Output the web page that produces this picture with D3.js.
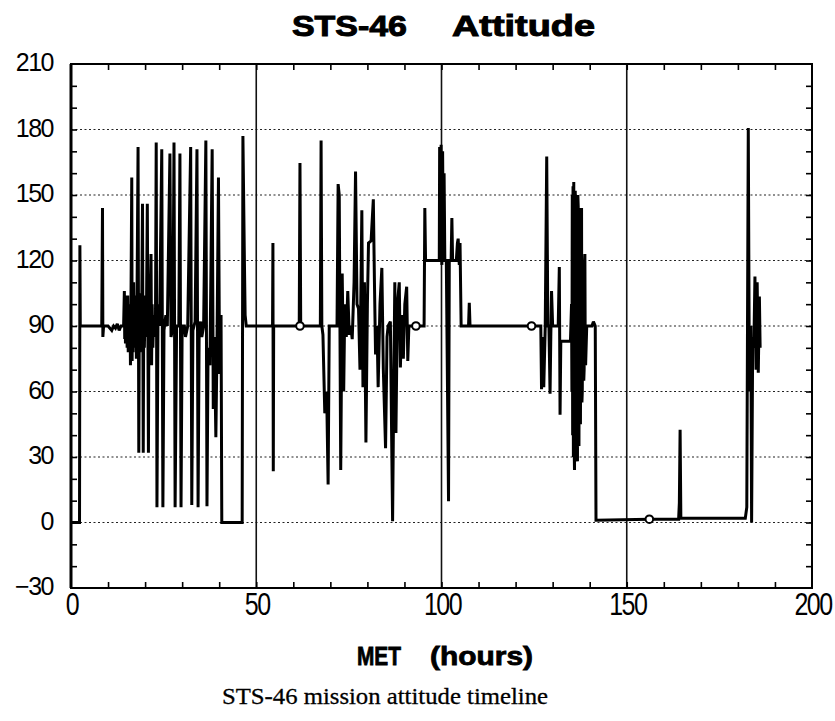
<!DOCTYPE html>
<html>
<head>
<meta charset="utf-8">
<script src="https://cdn.jsdelivr.net/npm/d3@7"></script>
<style>
  html, body { margin: 0; padding: 0; background: #fff; }
  svg { display: block; }
</style>
</head>
<body>
<svg id="chart" width="835" height="721"></svg>
<script>
// ---------------- DATA ----------------
const titleParts = ["STS-46", "Attitude"];
const xAxisTitleParts = ["MET", "(hours)"];
const captionText = "STS-46 mission attitude timeline";

const xTickLabels = [0, 50, 100, 150, 200];
const yTickLabels = [-30, 0, 30, 60, 90, 120, 150, 180, 210];
const xGridValues = [50, 100, 150];
const yGridValues = [0, 30, 60, 90, 120, 150, 180];

// [MET hours, attitude value]
const attitudeSegment1 = [
  [0,0],[2.3,0],[2.4,127],[2.5,90],[8.3,90],[8.5,144],[8.6,85],[8.8,90],[10,90],[11,88],[11.5,90],[12,89],[12.5,91],[13,88],[13.5,90],[14.2,90],
  [14.4,106],[14.5,84],[14.6,100],[14.7,82],[14.8,104],[14.9,85],[15.0,100],[15.15,80],[15.3,104],[15.45,78],[15.6,98],[15.75,80],[15.9,100],
  [16.05,72],[16.2,104],[16.4,158],[16.5,74],[16.6,108],[16.75,78],[16.9,110],[17.05,80],[17.2,104],[17.35,82],[17.5,100],[17.65,75],[17.8,98],
  [18.1,172],[18.3,32],[18.45,100],[18.6,78],[18.75,105],[18.9,82],[19.1,100],[19.3,146],[19.5,32],[19.65,104],[19.8,80],[20.0,100],[20.2,85],
  [20.4,102],[20.6,146],[20.9,32],[21.05,100],[21.2,80],[21.4,104],[21.6,123],[21.75,72],[21.9,100],[22.1,80],[22.3,95],[22.55,85],[22.8,92],
  [23.0,174],[23.2,7],[23.5,100],[23.9,90],[24.5,171],[24.8,7],[25.1,88],[25.6,95],[26.0,90],[26.7,169],[27.0,85],[27.5,90],[27.8,174],
  [28.1,7],[28.5,90],[29.1,90],[29.4,169],[29.7,7],[30.0,90],[30.6,90],[30.9,85],[31.5,90],[32.3,172],[32.6,8],[32.9,88],[33.5,92],[34.0,171],
  [34.3,7],[34.6,90],[35.0,92],[35.3,85],[35.8,90],[36.4,175],[36.7,7.5],[37.0,80],[37.5,72],[38.1,171],[38.4,52],[38.7,85],[39.1,39],[39.4,80],
  [39.8,158],[40.1,68],[40.5,95],[40.7,0],[46.2,0],[46.4,177],[46.8,120],[47.0,95],[47.3,90]
];
const attitudeSegment2 = [
  [54.4,90],[54.5,128],[54.6,23.5],[54.7,90],[61.6,90],[61.8,164.6],[62.0,90],[67.3,90],[67.5,175],[67.7,90],[68.0,86],[68.5,50],[69.0,60],
  [69.4,17.4],[69.7,90],[71.8,90],[72.1,155],[72.4,150],[72.8,24],[73.2,114],[73.6,60],[73.9,100],[74.3,85],[74.7,106],[75.1,86],[75.5,90],
  [75.9,84],[76.4,110],[76.8,160.7],[77.2,100],[77.6,98],[78.0,70],[78.5,143],[78.8,62],[79.2,110],[79.6,36.6],[80.0,100],[80.3,128],[81.0,129],
  [81.6,148],[81.9,110],[82.2,77],[82.6,90],[82.9,62],[83.4,100],[83.9,116.6],[84.3,70],[84.9,34],[85.3,85],[85.6,90],[86.2,92],[86.8,0.6],
  [87.1,60],[87.4,110],[87.7,41],[88.1,100],[88.6,110],[88.9,71],[89.3,95],[89.7,75],[90.1,100],[90.6,108],[90.9,74],[91.2,90],[95.3,90],
  [95.5,144],[95.7,120],[99.4,120]
];
const attitudeSegment3 = [
  [99.5,172],[99.7,125],[99.9,173],[100.1,118],[100.3,170],[100.5,122],[100.7,160],[100.9,120],[101.3,120],[101.9,9.7],[102.1,120],[102.6,120],
  [102.8,139.5],[103.0,120],[104.0,120],[104.3,128],[104.5,130],[104.8,118],[105.0,128],[105.3,90],[107.3,90],[107.5,100.6],[107.7,90],[126.8,90],
  [127.0,61],[127.4,85],[127.6,62],[128.0,90],[128.4,167.6],[128.7,90],[129.0,90],[129.3,59],[129.5,85],[129.7,106],[130.0,90],[131.5,90],
  [131.8,117],[132.0,49.4],[132.2,83],[134.8,83],
  [135.1,100],[135.2,60],[135.3,150],[135.4,40],[135.5,154],[135.6,30],[135.7,156],[135.8,35],[135.9,24],[136.0,148],[136.1,152],[136.2,50],
  [136.3,40],[136.4,140],[136.5,150],[136.6,35],[136.7,28],[136.8,150],[136.9,145],[137.0,40],[137.1,35],[137.2,140],[137.3,144],[137.4,50],
  [137.5,45],[137.65,135],[137.8,144],[137.9,55],[138.0,60],[138.15,115],[138.3,120],[138.4,65],[138.5,70],[138.6,118],[138.7,123],[138.8,75],
  [138.9,72],[139.2,90],[140.6,90],[141.0,92],[141.5,90],[141.7,1]
];
const attitudeSegment4 = [
  [156.1,1.5],[164.0,1.5],[164.2,9],[164.4,42.5],[164.6,2],[182.0,2],[182.4,7],[182.8,180.7],[183.1,60],[183.5,90],[183.7,0],[184.0,85],
  [184.3,80],[184.6,112.7],[184.9,70],[185.2,110],[185.5,68.6],[185.8,103.5],[186.0,80]
];
const markerHours = [61.8, 93.1, 124.3, 156.1];
const markerValues = [90, 90, 90, 1.5];

// ---------------- CHART ----------------
const svg = d3.select("#chart");
const L = 71, R = 812, T = 64, B = 588;
const x = d3.scaleLinear().domain([0, 200]).range([L, R]);
const y = d3.scaleLinear().domain([-30, 210]).range([B, T]);

svg.append("rect").attr("width", 835).attr("height", 721).attr("fill", "#fff");

// Horizontal dotted grid
svg.append("g").selectAll("line").data(yGridValues).join("line")
  .attr("x1", L).attr("x2", R)
  .attr("y1", d => y(d)).attr("y2", d => y(d))
  .attr("stroke", "#222").attr("stroke-width", 1.2)
  .attr("stroke-dasharray", "2,2.5");

// Vertical grid lines
svg.append("g").selectAll("line").data(xGridValues).join("line")
  .attr("x1", d => x(d)).attr("x2", d => x(d))
  .attr("y1", T).attr("y2", B)
  .attr("stroke", "#111").attr("stroke-width", 1.6);

// Minor ticks via d3 axes (inward)
const xMinor = d3.range(10, 200, 10);
const yMinor = d3.range(-20, 210, 10);
const tickStyle = g => { g.select(".domain").remove(); g.selectAll("text").remove(); g.selectAll("line").attr("stroke", "#000").attr("stroke-width", 1.6); };
svg.append("g").attr("transform", `translate(0,${B})`)
  .call(d3.axisBottom(x).tickValues(xMinor).tickSize(-6)).call(tickStyle);
svg.append("g").attr("transform", `translate(0,${T})`)
  .call(d3.axisTop(x).tickValues(xMinor).tickSize(-6)).call(tickStyle);
svg.append("g").attr("transform", `translate(${L},0)`)
  .call(d3.axisLeft(y).tickValues(yMinor).tickSize(-6)).call(tickStyle);
svg.append("g").attr("transform", `translate(${R},0)`)
  .call(d3.axisRight(y).tickValues(yMinor).tickSize(-6)).call(tickStyle);

// Frame
svg.append("rect").attr("x", L).attr("y", T).attr("width", R - L).attr("height", B - T)
  .attr("fill", "none").attr("stroke", "#000").attr("stroke-width", 2);
svg.append("line").attr("x1", L).attr("x2", L).attr("y1", T).attr("y2", B)
  .attr("stroke", "#000").attr("stroke-width", 3);

// Data line
svg.append("clipPath").attr("id", "clip").append("rect")
  .attr("x", L).attr("y", T).attr("width", R - L).attr("height", B - T);
const allPoints = [].concat(attitudeSegment1, attitudeSegment2, attitudeSegment3, attitudeSegment4);
const line = d3.line().x(d => x(d[0])).y(d => y(d[1])).curve(d3.curveLinear);
svg.append("path").datum(allPoints)
  .attr("clip-path", "url(#clip)")
  .attr("d", line)
  .attr("fill", "none").attr("stroke", "#000").attr("stroke-width", 3)
  .attr("stroke-linejoin", "miter").attr("stroke-miterlimit", 2);

// Markers
svg.append("g").selectAll("circle").data(markerHours).join("circle")
  .attr("cx", d => x(d)).attr("cy", (d, i) => y(markerValues[i]))
  .attr("r", 3.8).attr("fill", "#fff").attr("stroke", "#000").attr("stroke-width", 2);

// Y tick labels
svg.append("g").selectAll("text").data(yTickLabels).join("text")
  .attr("x", 53).attr("y", d => y(d) + 7)
  .attr("text-anchor", "end")
  .attr("font-family", "'Liberation Sans', Arial, sans-serif")
  .attr("font-size", 25).attr("letter-spacing", -1.5)
  .attr("fill", "#000")
  .text(d => d < 0 ? "\u2212" + Math.abs(d) : d);

// X tick labels (vertically stretched as in the scan)
svg.append("g").selectAll("text").data(xTickLabels).join("text")
  .attr("transform", d => `translate(${x(d) + 1},615) scale(1,1.28)`)
  .attr("text-anchor", "middle")
  .attr("font-family", "'Liberation Sans', Arial, sans-serif")
  .attr("font-size", 25).attr("letter-spacing", -1.5)
  .attr("fill", "#000")
  .text(d => d);

// Title
const boldFont = "'Liberation Sans', Arial, Helvetica, sans-serif";
svg.append("text").attr("x", 292).attr("y", 36)
  .attr("font-family", boldFont).attr("font-weight", "bold").attr("font-size", 30)
  .attr("stroke", "#000").attr("stroke-width", 1)
  .attr("textLength", 115).attr("lengthAdjust", "spacingAndGlyphs")
  .text(titleParts[0]);
svg.append("text").attr("x", 452).attr("y", 36)
  .attr("font-family", boldFont).attr("font-weight", "bold").attr("font-size", 30)
  .attr("stroke", "#000").attr("stroke-width", 1)
  .attr("textLength", 143).attr("lengthAdjust", "spacingAndGlyphs")
  .text(titleParts[1]);

// X axis title
svg.append("text").attr("x", 357).attr("y", 665)
  .attr("font-family", boldFont).attr("font-weight", "bold").attr("font-size", 26)
  .attr("stroke", "#000").attr("stroke-width", 0.8)
  .attr("textLength", 44).attr("lengthAdjust", "spacingAndGlyphs")
  .text(xAxisTitleParts[0]);
svg.append("text").attr("x", 430).attr("y", 665)
  .attr("font-family", boldFont).attr("font-weight", "bold").attr("font-size", 26)
  .attr("stroke", "#000").attr("stroke-width", 0.8)
  .attr("textLength", 103).attr("lengthAdjust", "spacingAndGlyphs")
  .text(xAxisTitleParts[1]);

// Caption
svg.append("text").attr("x", 222).attr("y", 704)
  .attr("font-family", "'Liberation Serif', 'Times New Roman', serif").attr("font-size", 24)
  .attr("stroke", "#000").attr("stroke-width", 0.3)
  .attr("textLength", 326).attr("lengthAdjust", "spacingAndGlyphs")
  .text(captionText);
</script>
</body>
</html>
